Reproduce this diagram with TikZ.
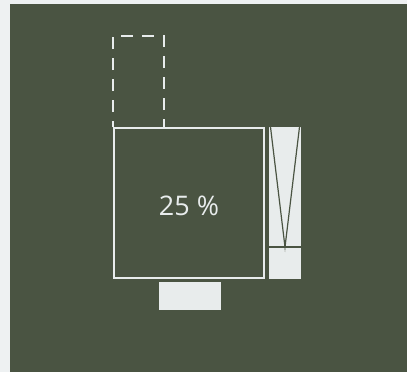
\documentclass[tikz,border=0pt]{standalone}
\usepackage{fontspec}
\setmainfont{Open Sans}
\definecolor{bgl}{HTML}{EEF1F2}
\definecolor{grn}{HTML}{4A5442}
\definecolor{lite}{HTML}{E8ECEC}
\begin{document}
\begin{tikzpicture}[x=1pt,y=-1pt,
  outline/.style={draw=lite,line width=2pt},
  fillbox/.style={fill=lite,draw=none},
  dashbox/.style={draw=lite,line width=2pt,dash pattern=on 12pt off 9pt,dash phase=6pt}]
\useasboundingbox (0,0) rectangle (407,372);
\fill[bgl] (0,0) rectangle (407,372);
\fill[grn] (10,4) rectangle (407,372);
\draw[dashbox] (113,127) -- (113,36) -- (164,36) -- (164,127);
\node[outline,minimum width=150pt,minimum height=150pt,inner sep=0pt,anchor=north west] (main) at (113,127) {};
\node[text=lite,font=\fontsize{27}{32}\selectfont] (lbl) at ([yshift=-3pt]main.center) {25 \%};
\node[fillbox,minimum width=32pt,minimum height=152pt,inner sep=0pt,anchor=north west] (bar) at (269,127) {};
\coordinate (apex) at (285,247);
\draw[grn,line width=1.2pt] (270.5,127) -- (apex) -- (299.5,127);
\draw[grn,line width=2pt] (269,247) -- (301,247);
\node[fillbox,minimum width=62pt,minimum height=28pt,inner sep=0pt,anchor=north west] (base) at (159,282) {};
\end{tikzpicture}
\end{document}
